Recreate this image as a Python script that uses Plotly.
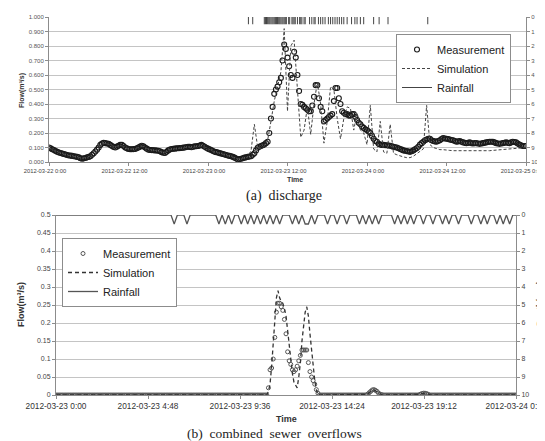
import plotly.graph_objects as go

W, H = 545, 441

# ---------------- (a) discharge : 2012-03-22 0:00 .. 2012-03-25 0:00 ----------------
meas_a_step_h = 0.25   # measurement every 15 min
meas_a = [
    0.100, 0.094, 0.088, 0.082, 0.075, 0.070, 0.065, 0.062, 0.058, 0.055, 0.052, 0.048,  # 0-3h
    0.045, 0.044, 0.042, 0.040, 0.038, 0.035, 0.032, 0.026, 0.022, 0.025, 0.028, 0.032,  # 3-6h
    0.035, 0.040, 0.050, 0.060, 0.072, 0.085, 0.100, 0.118, 0.128, 0.132, 0.130, 0.128,  # 6-9h
    0.125, 0.118, 0.110, 0.104, 0.100, 0.106, 0.112, 0.118, 0.118, 0.110, 0.100, 0.094,  # 9-12h
    0.090, 0.088, 0.088, 0.089, 0.090, 0.095, 0.100, 0.106, 0.112, 0.108, 0.100, 0.092,  # 12-15h
    0.085, 0.083, 0.082, 0.081, 0.080, 0.079, 0.078, 0.074, 0.068, 0.064, 0.062, 0.070,  # 15-18h
    0.080, 0.086, 0.090, 0.091, 0.092, 0.094, 0.095, 0.096, 0.097, 0.099, 0.100, 0.103,  # 18-21h
    0.105, 0.104, 0.102, 0.105, 0.108, 0.109, 0.110, 0.113, 0.118, 0.112, 0.105, 0.098,  # 21-24h
    0.092, 0.087, 0.082, 0.076, 0.070, 0.068, 0.065, 0.061, 0.058, 0.055, 0.052, 0.048,  # 24-27h
    0.045, 0.042, 0.040, 0.035, 0.030, 0.024, 0.018, 0.020, 0.022, 0.026, 0.030, 0.032,  # 27-30h
    0.035, 0.038, 0.040, 0.050, 0.060, 0.080, 0.098, 0.105, 0.110, 0.115, 0.120, 0.130,  # 30-33h
    0.140, 0.200, 0.300, 0.380, 0.470, 0.500, 0.520, 0.550, 0.580, 0.700, 0.810, 0.780,  # 33-36h
    0.720, 0.660, 0.600, 0.580, 0.760, 0.720, 0.600, 0.490, 0.400, 0.395, 0.380, 0.370,  # 36-39h
    0.360, 0.350, 0.350, 0.390, 0.450, 0.530, 0.530, 0.440, 0.380, 0.350, 0.280, 0.290,  # 39-42h
    0.300, 0.310, 0.320, 0.330, 0.420, 0.510, 0.510, 0.440, 0.400, 0.350, 0.340, 0.330,  # 42-45h
    0.330, 0.320, 0.320, 0.330, 0.330, 0.310, 0.290, 0.270, 0.260, 0.245, 0.235, 0.225,  # 45-48h
    0.220, 0.210, 0.200, 0.180, 0.160, 0.145, 0.140, 0.125, 0.120, 0.118, 0.118, 0.116,  # 48-51h
    0.115, 0.114, 0.112, 0.108, 0.105, 0.102, 0.100, 0.095, 0.090, 0.085, 0.080, 0.078,  # 51-54h
    0.075, 0.072, 0.070, 0.074, 0.080, 0.088, 0.095, 0.105, 0.120, 0.130, 0.140, 0.150,  # 54-57h
    0.155, 0.160, 0.160, 0.150, 0.145, 0.142, 0.140, 0.145, 0.150, 0.158, 0.165, 0.162,  # 57-60h
    0.160, 0.158, 0.155, 0.152, 0.150, 0.145, 0.140, 0.142, 0.145, 0.140, 0.135, 0.132,  # 60-63h
    0.130, 0.132, 0.135, 0.130, 0.128, 0.130, 0.130, 0.128, 0.125, 0.128, 0.130, 0.132,  # 63-66h
    0.135, 0.138, 0.140, 0.140, 0.140, 0.135, 0.130, 0.128, 0.125, 0.128, 0.130, 0.132,  # 66-69h
    0.135, 0.132, 0.130, 0.135, 0.140, 0.138, 0.135, 0.128, 0.120, 0.115, 0.110, 0.110,  # 69-72h
    0.110,
]
sim_a_step_h = 0.5     # simulation every 30 min
sim_a = [
    0.095, 0.085, 0.075, 0.066, 0.058, 0.050, 0.045, 0.040, 0.036, 0.032, 0.028, 0.030,
    0.036, 0.050, 0.075, 0.105, 0.125, 0.128, 0.120, 0.110, 0.105, 0.110, 0.112, 0.100,
    0.092, 0.090, 0.092, 0.100, 0.108, 0.098, 0.088, 0.083, 0.080, 0.076, 0.070, 0.066,
    0.078, 0.088, 0.090, 0.094, 0.096, 0.100, 0.102, 0.100, 0.105, 0.108, 0.110, 0.102,
    0.090, 0.080, 0.070, 0.064, 0.056, 0.050, 0.044, 0.038, 0.030, 0.022, 0.022, 0.028,
    0.035, 0.080, 0.260, 0.100, 0.090, 0.110, 0.150, 0.280, 0.420, 0.520, 0.620, 0.920,
    0.350, 0.800, 0.840, 0.500, 0.170, 0.220, 0.380, 0.190, 0.400, 0.550, 0.400, 0.130,
    0.280, 0.520, 0.500, 0.300, 0.160, 0.300, 0.380, 0.370, 0.220, 0.340, 0.220, 0.200,
    0.120, 0.390, 0.090, 0.070, 0.280, 0.070, 0.060, 0.260, 0.060, 0.050, 0.040, 0.035,
    0.030, 0.030, 0.040, 0.055, 0.070, 0.090, 0.390, 0.120, 0.100, 0.090, 0.085, 0.085,
    0.080, 0.080, 0.078, 0.078, 0.076, 0.075, 0.075, 0.074, 0.074, 0.073, 0.074, 0.075,
    0.076, 0.078, 0.080, 0.082, 0.085, 0.088, 0.090, 0.092, 0.095, 0.098, 0.100, 0.100,
    0.100,
]
rain_a_hours = [
    30.10, 30.75, 32.50, 32.67, 32.83, 33.00, 33.17, 33.33, 33.50, 33.67, 33.83, 34.00,
    34.17, 34.33, 34.50, 34.67, 34.83, 35.00, 35.17, 35.33, 35.50, 35.67, 35.83, 36.17,
    36.33, 36.67, 36.83, 37.00, 37.17, 37.50, 37.83, 38.00, 38.17, 38.50, 38.67, 39.33,
    39.67, 40.00, 40.17, 40.67, 41.00, 41.33, 41.67, 42.17, 42.50, 42.83, 43.17, 43.50,
    43.83, 44.17, 44.50, 45.00, 45.67, 46.17, 46.50, 47.00, 47.50, 49.00, 49.83, 51.17,
    57.17,
]
rain_a_depth = [0.5] * len(rain_a_hours)
a_tickvals = [0, 12, 24, 36, 48, 60, 72]
a_ticktext = ["2012-03-22 0:00", "2012-03-22 12:00", "2012-03-23 0:00", "2012-03-23 12:00",
              "2012-03-24 0:00", "2012-03-24 12:00", "2012-03-25 0:00"]

# ---------------- (b) combined sewer overflows : 2012-03-23 0:00 .. 2012-03-24 0:00, 5-min steps ----------------
b_step_h = 5 / 60
meas_b = [
    0, 0, 0, 0, 0, 0, 0, 0, 0, 0, 0, 0,  # 0h
    0, 0, 0, 0, 0, 0, 0, 0, 0, 0, 0, 0,  # 1h
    0, 0, 0, 0, 0, 0, 0, 0, 0, 0, 0, 0,  # 2h
    0, 0, 0, 0, 0, 0, 0, 0, 0, 0, 0, 0,  # 3h
    0, 0, 0, 0, 0, 0, 0, 0, 0, 0, 0, 0,  # 4h
    0, 0, 0, 0, 0, 0, 0, 0, 0, 0, 0, 0,  # 5h
    0, 0, 0, 0, 0, 0, 0, 0, 0, 0, 0, 0,  # 6h
    0, 0, 0, 0, 0, 0, 0, 0, 0, 0, 0, 0,  # 7h
    0, 0, 0, 0, 0, 0, 0, 0, 0, 0, 0, 0,  # 8h
    0, 0, 0, 0, 0, 0, 0, 0, 0, 0, 0, 0,  # 9h
    0, 0, 0, 0, 0, 0, 0, 0, 0, 0, 0, 0,  # 10h
    0.0, 0.02, 0.07, 0.075, 0.10, 0.16, 0.23, 0.255, 0.255, 0.245, 0.235, 0.21,      # 11h
    0.17, 0.12, 0.095, 0.085, 0.07, 0.065, 0.07, 0.08, 0.095, 0.11, 0.125, 0.125,    # 12h
    0.125, 0.125, 0.09, 0.065, 0.05, 0.04, 0.03, 0.015, 0.005, 0, 0, 0,              # 13h
    0, 0, 0, 0, 0, 0, 0, 0, 0, 0, 0, 0,  # 14h
    0, 0, 0, 0, 0, 0, 0, 0, 0, 0, 0, 0,  # 15h
    0, 0, 0, 0.002, 0.006, 0.010, 0.014, 0.015, 0.013, 0.010, 0.005, 0.002,          # 16h
    0.001, 0, 0, 0, 0, 0, 0, 0, 0, 0, 0, 0,  # 17h
    0, 0, 0, 0, 0, 0, 0, 0, 0, 0, 0, 0,  # 18h
    0.002, 0.004, 0.005, 0.005, 0.004, 0.002, 0, 0, 0, 0, 0, 0,  # 19h
    0, 0, 0, 0, 0, 0, 0, 0, 0, 0, 0, 0,  # 20h
    0, 0, 0, 0, 0, 0, 0, 0, 0, 0, 0, 0,  # 21h
    0, 0, 0, 0, 0, 0, 0, 0, 0, 0, 0, 0,  # 22h
    0, 0, 0, 0, 0, 0, 0, 0, 0, 0, 0, 0,  # 23h
    0,
]
sim_b = [
    0, 0, 0, 0, 0, 0, 0, 0, 0, 0, 0, 0,  # 0h
    0, 0, 0, 0, 0, 0, 0, 0, 0, 0, 0, 0,  # 1h
    0, 0, 0, 0, 0, 0, 0, 0, 0, 0, 0, 0,  # 2h
    0, 0, 0, 0, 0, 0, 0, 0, 0, 0, 0, 0,  # 3h
    0, 0, 0, 0, 0, 0, 0, 0, 0, 0, 0, 0,  # 4h
    0, 0, 0, 0, 0, 0, 0, 0, 0, 0, 0, 0,  # 5h
    0, 0, 0, 0, 0, 0, 0, 0, 0, 0, 0, 0,  # 6h
    0, 0, 0, 0, 0, 0, 0, 0, 0, 0, 0, 0,  # 7h
    0, 0, 0, 0, 0, 0, 0, 0, 0, 0, 0, 0,  # 8h
    0, 0, 0, 0, 0, 0, 0, 0, 0, 0, 0, 0,  # 9h
    0, 0, 0, 0, 0, 0, 0, 0, 0, 0, 0, 0,  # 10h
    0.0, 0.01, 0.03, 0.08, 0.14, 0.22, 0.27, 0.29, 0.27, 0.26, 0.255, 0.24,          # 11h
    0.22, 0.18, 0.14, 0.09, 0.06, 0.035, 0.025, 0.02, 0.05, 0.09, 0.15, 0.20,        # 12h
    0.23, 0.245, 0.22, 0.17, 0.12, 0.08, 0.04, 0.015, 0, 0, 0, 0,                   # 13h
    0, 0, 0, 0, 0, 0, 0, 0, 0, 0, 0, 0,  # 14h
    0, 0, 0, 0, 0, 0, 0, 0, 0, 0, 0, 0,  # 15h
    0, 0, 0, 0.002, 0.006, 0.010, 0.013, 0.014, 0.012, 0.009, 0.005, 0.002,          # 16h
    0.001, 0, 0, 0, 0, 0, 0, 0, 0, 0, 0, 0,  # 17h
    0, 0, 0, 0, 0, 0, 0, 0, 0, 0, 0, 0,  # 18h
    0.002, 0.004, 0.005, 0.005, 0.004, 0.002, 0, 0, 0, 0, 0, 0,  # 19h
    0, 0, 0, 0, 0, 0, 0, 0, 0, 0, 0, 0,  # 20h
    0, 0, 0, 0, 0, 0, 0, 0, 0, 0, 0, 0,  # 21h
    0, 0, 0, 0, 0, 0, 0, 0, 0, 0, 0, 0,  # 22h
    0, 0, 0, 0, 0, 0, 0, 0, 0, 0, 0, 0,  # 23h
    0,
]
rain_b_step_h = 10 / 60
rain_b_hours = [
    6.17, 6.83, 8.50, 8.83, 9.17, 9.67, 10.00, 10.33, 10.67, 11.00,
    11.33, 11.67, 12.33, 12.67, 13.00, 13.17, 13.50, 14.17, 14.67, 15.17, 15.83, 16.17,
    16.50, 16.83, 17.67, 18.00, 18.33, 18.67, 19.17, 19.67, 20.17, 20.50, 21.00, 21.67,
    22.17, 22.50, 23.00, 23.33, 23.67,
]
rain_b_depth = [0.5] * len(rain_b_hours)
b_tickvals = [0, 4.8, 9.6, 14.4, 19.2, 24]
b_ticktext = ["2012-03-23 0:00", "2012-03-23 4:48", "2012-03-23 9:36",
              "2012-03-23 14:24", "2012-03-23 19:12", "2012-03-24 0:00"]

# ---------------- derived series ----------------
t_meas_a = [i * meas_a_step_h for i in range(len(meas_a))]
t_sim_a = [i * sim_a_step_h for i in range(len(sim_a))]
t_b = [i * b_step_h for i in range(len(meas_b))]

rain_a_x, rain_a_y = [], []
for t, d in zip(rain_a_hours, rain_a_depth):
    rain_a_x += [t, t, None]
    rain_a_y += [0, d, None]

n_rb = int(round(24 / rain_b_step_h)) + 1
rain_b_x = [i * rain_b_step_h for i in range(n_rb)]
rain_b_y = [0.0] * n_rb
for t, d in zip(rain_b_hours, rain_b_depth):
    rain_b_y[int(round(t / rain_b_step_h))] = d

# ---------------- layout helpers ----------------
def px(x):
    return x / W

def py(y):
    return 1 - y / H

FONT = "Liberation Sans, Arial, sans-serif"
AX = "#8c8c8c"
GRID = "#c4c4c4"

fig = go.Figure()

# (a)
fig.add_trace(go.Scatter(x=t_meas_a, y=meas_a, mode="markers", name="Measurement",
                         marker=dict(symbol="circle-open", size=5, color="#1a1a1a", line=dict(width=1.1)),
                         xaxis="x", yaxis="y", legend="legend"))
fig.add_trace(go.Scatter(x=t_sim_a, y=sim_a, mode="lines", name="Simulation",
                         line=dict(color="#444444", width=1, dash="3px,2px"),
                         xaxis="x", yaxis="y", legend="legend"))
fig.add_trace(go.Scatter(x=rain_a_x, y=rain_a_y, mode="lines", name="Rainfall",
                         line=dict(color="#444444", width=1),
                         xaxis="x", yaxis="y2", legend="legend"))

# (b)
fig.add_trace(go.Scatter(x=t_b, y=meas_b, mode="markers", name="Measurement",
                         marker=dict(symbol="circle-open", size=4, color="#555555", line=dict(width=1)),
                         xaxis="x2", yaxis="y3", legend="legend2"))
fig.add_trace(go.Scatter(x=t_b, y=sim_b, mode="lines", name="Simulation",
                         line=dict(color="#333333", width=1.3, dash="4px,3px"),
                         xaxis="x2", yaxis="y3", legend="legend2"))
fig.add_trace(go.Scatter(x=rain_b_x, y=rain_b_y, mode="lines", name="Rainfall",
                         line=dict(color="#555555", width=1.3),
                         xaxis="x2", yaxis="y4", legend="legend2"))

common_axis = dict(showline=True, linecolor=AX, linewidth=1, zeroline=False, ticks="outside",
                   tickcolor=AX, ticklen=3, automargin=False)

fig.update_layout(
    width=W, height=H, margin=dict(l=0, r=0, t=0, b=0, pad=0, autoexpand=False),
    paper_bgcolor="white", plot_bgcolor="white",
    font=dict(family=FONT, color="#333333"),
    xaxis=dict(domain=[px(41), px(518)], range=[0, 72], anchor="y",
               tickmode="array", tickvals=a_tickvals, ticktext=a_ticktext, tickangle=0,
               ticklabeloverflow="allow", ticklabelshift=-4,
               tickfont=dict(size=5.8, color="#444444"), showgrid=False, **common_axis),
    yaxis=dict(domain=[py(154), py(9)], range=[0, 1.0], anchor="x", dtick=0.1, tickformat=".3f",
               tickfont=dict(size=6, color="#555555"), showgrid=True, gridcolor=GRID, gridwidth=1,
               **common_axis),
    yaxis2=dict(range=[10, 0], overlaying="y", side="right", anchor="x", dtick=1,
                tickfont=dict(size=6, color="#555555"), showgrid=False, **common_axis),
    xaxis2=dict(domain=[px(48), px(508)], range=[0, 24], anchor="y3",
                tickmode="array", tickvals=b_tickvals, ticktext=b_ticktext, tickangle=0,
                ticklabeloverflow="allow",
                tickfont=dict(size=8.3, color="#333333"), showgrid=False, **common_axis),
    yaxis3=dict(domain=[py(387), py(207)], range=[0, 0.5], anchor="x2", dtick=0.05,
                tickfont=dict(size=7, color="#444444"), showgrid=True, gridcolor=GRID, gridwidth=1,
                **common_axis),
    yaxis4=dict(range=[10, 0], overlaying="y3", side="right", anchor="x2", dtick=1,
                tickfont=dict(size=7, color="#444444"), showgrid=False, **common_axis),
    legend=dict(x=px(388), y=py(26), xanchor="left", yanchor="top",
                bgcolor="white", bordercolor="#8c8c8c", borderwidth=1,
                font=dict(size=11, color="#222222"), itemwidth=30, tracegroupgap=0),
    legend2=dict(x=px(54), y=py(230), xanchor="left", yanchor="top",
                 bgcolor="white", bordercolor="#8c8c8c", borderwidth=1,
                 font=dict(size=11, color="#222222"), itemwidth=30, tracegroupgap=0),
    showlegend=True,
)

ann = [
    dict(text="<b>Flow(m³/s)</b>", x=px(14), y=py(83), textangle=-90, font=dict(size=7)),
    dict(text="<b>Depth(mm)</b>", x=px(534), y=py(84), textangle=-90, font=dict(size=7)),
    dict(text="<b>Time</b>", x=px(287), y=py(171), font=dict(size=7)),
    dict(text="(a)  discharge", x=px(276), y=py(188),
         font=dict(size=14, family="Liberation Serif, DejaVu Serif, serif", color="#222222")),
    dict(text="<b>Flow(m³/s)</b>", x=px(13), y=py(297), textangle=-90, font=dict(size=9)),
    dict(text="<b>Depth(mm)</b>", x=px(532), y=py(296), textangle=-90, font=dict(size=8.5)),
    dict(text="<b>Time</b>", x=px(278), y=py(411), font=dict(size=9)),
    dict(text="(b)  combined  sewer  overflows", x=px(266), y=py(425),
         font=dict(size=13.5, family="Liberation Serif, DejaVu Serif, serif", color="#222222")),
]
for a in ann:
    a.update(xref="paper", yref="paper", showarrow=False, xanchor="center", yanchor="middle")
fig.update_layout(annotations=ann)

fig.write_html("out.html")
